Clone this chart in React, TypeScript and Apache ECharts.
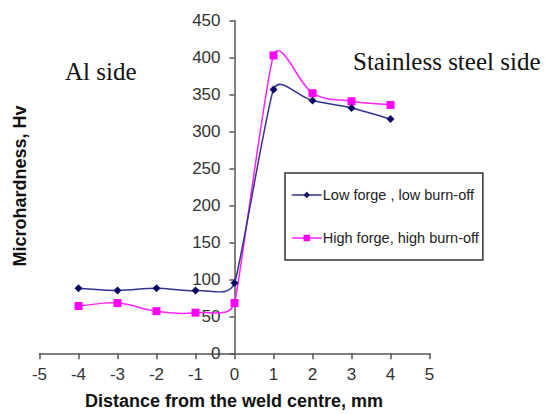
import React, { useEffect, useRef } from "react";
import * as echarts from "echarts";

const distances = [-4, -3, -2, -1, 0, 1, 2, 3, 4];
const lowForge = [88, 85, 88, 85, 95, 357, 342, 332, 317];
const highForge = [64, 68, 57, 55, 68, 403, 352, 341, 336];
const seriesNames = ["Low forge , low burn-off", "High forge, high burn-off"];
const lineColors = ["#33338f", "#ff22ff"];
const markerColors = ["#0a0a66", "#ff00ff"];

const SMOOTH = 0.4;

function makeRenderItem(values: number[], color: string) {
  return (params: any, api: any) => {
    const pts = distances.map((d, j) => api.coord([d, values[j]]));
    const n = pts.length;
    const segLen = (j: number) =>
      j < 0 || j >= n - 1 ? Infinity : Math.hypot(pts[j + 1][0] - pts[j][0], pts[j + 1][1] - pts[j][1]);
    const tangent = (j: number) => {
      const a = pts[Math.max(0, j - 1)];
      const b = pts[Math.min(n - 1, j + 1)];
      const dx = b[0] - a[0];
      const dy = b[1] - a[1];
      const len = Math.hypot(dx, dy) || 1;
      return [dx / len, dy / len];
    };
    const i = params.dataIndex;
    const p1 = pts[i];
    const p2 = pts[i + 1];
    const seg = segLen(i);
    const h1 = SMOOTH * Math.min(seg, segLen(i - 1));
    const h2 = SMOOTH * Math.min(seg, segLen(i + 1));
    const t1 = tangent(i);
    const t2 = tangent(i + 1);
    return {
      type: "bezierCurve",
      silent: true,
      shape: {
        x1: p1[0],
        y1: p1[1],
        x2: p2[0],
        y2: p2[1],
        cpx1: p1[0] + t1[0] * h1,
        cpy1: p1[1] + t1[1] * h1,
        cpx2: p2[0] - t2[0] * h2,
        cpy2: p2[1] - t2[1] * h2,
      },
      style: { stroke: color, lineWidth: 1.5, fill: "none" },
    };
  };
}

export default function App() {
  const ref = useRef<HTMLDivElement>(null);
  useEffect(() => {
    if (!ref.current) return;
    const chart = echarts.init(ref.current, null, { renderer: "svg" });
    const font = "Arial, 'Liberation Sans', sans-serif";
    const serif = "'Liberation Serif', 'Times New Roman', serif";
    const gridLeft = 39.5;
    const gridRight = 115.5;
    const plotW = 545 - gridLeft - gridRight;
    const yAxisOffset = -plotW / 2;
    chart.setOption({
      animation: false,
      backgroundColor: "#fff",
      grid: { left: gridLeft, right: gridRight, top: 20.7, bottom: 60.7, containLabel: false },
      legend: {
        orient: "vertical",
        left: 285,
        top: 173,
        padding: [14, 4, 14, 6],
        itemGap: 27,
        itemWidth: 30,
        itemHeight: 8,
        borderColor: "#333",
        borderWidth: 1.5,
        textStyle: { fontFamily: font, fontSize: 14.5, lineHeight: 16, color: "#222", padding: [0, 0, 0, -4] },
        data: seriesNames.map((name, k) => ({
          name,
          lineStyle: { color: lineColors[k], width: 1.5, opacity: 1 },
          itemStyle: { color: markerColors[k], opacity: 1 },
        })),
      },
      xAxis: {
        type: "value",
        min: -5,
        max: 5,
        interval: 1,
        axisLine: { onZero: false, lineStyle: { color: "#555", width: 1.5 } },
        axisTick: { show: true, length: 6, lineStyle: { color: "#555", width: 1.5 } },
        axisLabel: { fontFamily: font, fontSize: 17, color: "#333", margin: 13 },
        splitLine: { show: false },
      },
      yAxis: {
        type: "value",
        min: 0,
        max: 450,
        interval: 50,
        offset: yAxisOffset,
        axisLine: { show: true, onZero: false, lineStyle: { color: "#555", width: 1.5 } },
        axisTick: { show: true, length: 5, lineStyle: { color: "#555", width: 1.5 } },
        axisLabel: { fontFamily: font, fontSize: 17, color: "#333", margin: 14 },
        splitLine: { show: false },
      },
      series: [
        {
          name: "curve-low",
          type: "custom",
          renderItem: makeRenderItem(lowForge, lineColors[0]),
          data: distances.slice(0, -1).map((d, i) => [d, lowForge[i]]),
          z: 2,
        },
        {
          name: "curve-high",
          type: "custom",
          renderItem: makeRenderItem(highForge, lineColors[1]),
          data: distances.slice(0, -1).map((d, i) => [d, highForge[i]]),
          z: 1,
        },
        {
          name: seriesNames[0],
          type: "line",
          data: distances.map((d, i) => [d, lowForge[i]]),
          symbol: "diamond",
          symbolSize: 8,
          lineStyle: { color: lineColors[0], width: 1.5, opacity: 0 },
          itemStyle: { color: markerColors[0] },
          z: 4,
        },
        {
          name: seriesNames[1],
          type: "line",
          data: distances.map((d, i) => [d, highForge[i]]),
          symbol: "rect",
          symbolSize: 8,
          lineStyle: { color: lineColors[1], width: 1.5, opacity: 0 },
          itemStyle: { color: markerColors[1] },
          z: 3,
        },
      ],
      graphic: [
        {
          type: "text",
          x: 65,
          y: 71,
          style: { text: "Al side", font: `25px ${serif}`, fill: "#111", verticalAlign: "middle" },
        },
        {
          type: "text",
          x: 353,
          y: 61.6,
          style: { text: "Stainless steel side", font: `25px ${serif}`, fill: "#111", verticalAlign: "middle" },
        },
        {
          type: "text",
          x: 19.5,
          y: 186,
          rotation: Math.PI / 2,
          style: {
            text: "Microhardness, Hv",
            font: `bold 18px ${font}`,
            fill: "#111",
            align: "center",
            verticalAlign: "middle",
          },
        },
        {
          type: "text",
          x: 234,
          y: 401,
          style: {
            text: "Distance from the weld centre, mm",
            font: `bold 18px ${font}`,
            fill: "#111",
            align: "center",
            verticalAlign: "middle",
          },
        },
      ],
    });
    return () => chart.dispose();
  }, []);
  return <div ref={ref} style={{ width: 545, height: 414, position: "absolute", left: 0, top: 0 }} />;
}
